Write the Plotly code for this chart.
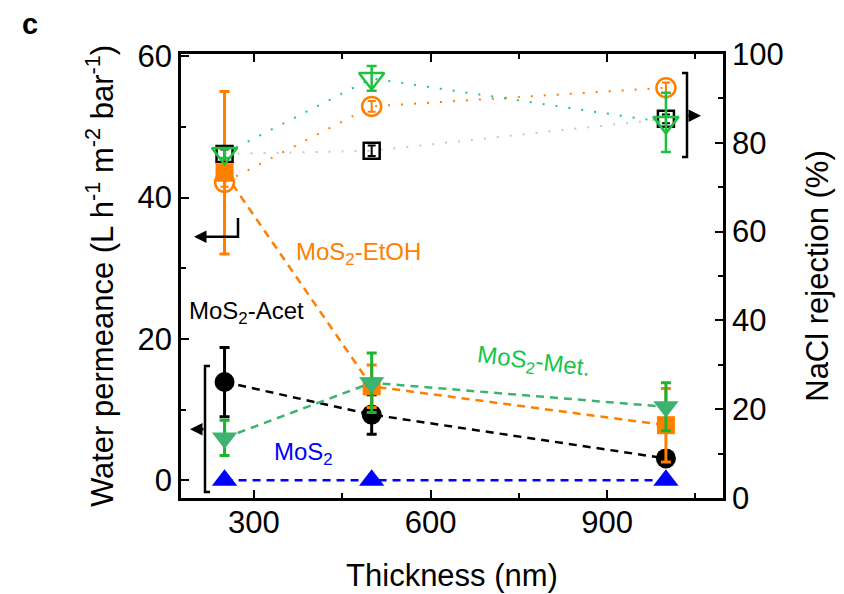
import plotly.graph_objects as go

# ---------------- data ----------------
thickness = [250, 500, 1000]

perm_mos2 = [0.0, 0.0, 0.0]

perm_acet = [13.9, 9.3, 3.1]
perm_acet_err = [4.9, 2.8, 1.0]

perm_etoh = [43.5, 13.3, 7.8]
perm_etoh_err = [11.5, 3.0, 5.2]

perm_met = [6.0, 13.8, 10.4]
perm_met_err = [2.5, 4.2, 3.4]

rej_acet = [77.5, 78.2, 85.4]
rej_acet_err = [1.0, 1.2, 1.0]

rej_etoh = [71.1, 88.2, 92.4]
rej_etoh_err = [1.0, 1.2, 1.2]

rej_met = [77.6, 94.5, 84.6]
rej_met_err = [1.0, 2.8, 6.7]

x_ticks = [300, 600, 900]
y_left_ticks = [0, 20, 40, 60]
y_right_ticks = [0, 20, 40, 60, 80, 100]

# ---------------- styles ----------------
BLACK = "#000000"
ORANGE = "#ff7f00"
GREEN_FILL = "#3cb371"
GREEN_ERR = "#1db32d"
GREEN_OPEN = "#1ec13e"
TEAL = "#16c79a"
BLUE = "#0000ff"
GREY = "#c8c8c8"
FONT = "Liberation Sans, Arial, sans-serif"

# page body has an 8px offset; plot box target in page px: x 181..723, y 54..498
OFF = 8
L, R, T, B = 181, 723, 54, 498

fig = go.Figure()

# rejection (right axis), dotted lines with open markers
fig.add_trace(go.Scatter(
    x=thickness, y=rej_acet, yaxis="y2", mode="lines+markers",
    line=dict(color=GREY, width=2, dash="2px,11px"),
    marker=dict(symbol="square-open", size=16, color=BLACK, line=dict(width=2.5)),
    error_y=dict(type="data", array=rej_acet_err, color=BLACK, thickness=2, width=4),
))
fig.add_trace(go.Scatter(
    x=thickness, y=rej_etoh, yaxis="y2", mode="lines+markers",
    line=dict(color=ORANGE, width=2, dash="2px,11px"),
    marker=dict(symbol="circle-open", size=19, color=ORANGE, line=dict(width=2.5)),
    error_y=dict(type="data", array=rej_etoh_err, color=ORANGE, thickness=2, width=4),
))
fig.add_trace(go.Scatter(
    x=thickness, y=rej_met, yaxis="y2", mode="lines+markers",
    line=dict(color=TEAL, width=2, dash="2px,11px"),
    marker=dict(symbol="triangle-down-open", size=22, color=GREEN_OPEN, line=dict(width=2.5)),
    error_y=dict(type="data", array=rej_met_err, color=GREEN_OPEN, thickness=2.5, width=5),
))

# permeance (left axis), dashed lines with filled markers
fig.add_trace(go.Scatter(
    x=thickness, y=perm_acet, mode="lines+markers",
    line=dict(color=BLACK, width=2.5, dash="8px,6px"),
    marker=dict(symbol="circle", size=20, color=BLACK),
    error_y=dict(type="data", array=perm_acet_err, color=BLACK, thickness=3, width=5),
))
fig.add_trace(go.Scatter(
    x=thickness, y=perm_etoh, mode="lines+markers",
    line=dict(color=ORANGE, width=2.5, dash="8px,6px"),
    marker=dict(symbol="square", size=18, color=ORANGE),
    error_y=dict(type="data", array=perm_etoh_err, color=ORANGE, thickness=3, width=5),
))
fig.add_trace(go.Scatter(
    x=thickness, y=perm_met, mode="lines+markers",
    line=dict(color=GREEN_FILL, width=2.5, dash="8px,6px"),
    marker=dict(symbol="triangle-down", size=22, color=GREEN_FILL),
    error_y=dict(type="data", array=perm_met_err, color=GREEN_ERR, thickness=3, width=5),
))
fig.add_trace(go.Scatter(
    x=thickness, y=perm_mos2, mode="lines+markers",
    line=dict(color=BLUE, width=2.5, dash="8px,6px"),
    marker=dict(symbol="triangle-up", size=22, color=BLUE),
))

axis_common = dict(
    showline=True, linecolor=BLACK, linewidth=2.5,
    ticks="inside", ticklen=8, tickwidth=2, tickcolor=BLACK,
    showgrid=False, zeroline=False,
    tickfont=dict(family=FONT, size=31, color=BLACK),
)

fig.update_layout(
    width=844, height=594,
    margin=dict(l=L - OFF, r=844 - (R - OFF), t=T - OFF, b=594 - (B - OFF)),
    paper_bgcolor="white", plot_bgcolor="white",
    showlegend=False,
    font=dict(family=FONT, color=BLACK),
    xaxis=dict(
        **axis_common, range=[176, 1097], tickvals=x_ticks, mirror="ticks",
        ticklabelstandoff=-5,
        minor=dict(ticks="inside", dtick=150, tick0=0, ticklen=5, tickwidth=2, tickcolor=BLACK),
        title=dict(text="Thickness (nm)", font=dict(family=FONT, size=31), standoff=26),
    ),
    yaxis=dict(
        **axis_common, range=[-2.5, 60.3], tickvals=y_left_ticks,
        minor=dict(ticks="inside", dtick=10, tick0=0, ticklen=5, tickwidth=2, tickcolor=BLACK),
        title=dict(text="Water permeance (L h<sup>-1</sup> m<sup>-2</sup> bar<sup>-1</sup>)",
                   font=dict(family=FONT, size=31), standoff=15),
    ),
    yaxis2=dict(
        **axis_common, range=[0, 100], tickvals=y_right_ticks,
        overlaying="y", side="right",
        minor=dict(ticks="inside", dtick=10, tick0=0, ticklen=5, tickwidth=2, tickcolor=BLACK),
        title=dict(text="NaCl rejection (%)", font=dict(family=FONT, size=31), standoff=24),
    ),
)

# ---------- brackets (paper coords, from page px) ----------
def px(x):
    return (x - L) / (R - L)

def py(y):
    return (B - y) / (B - T)

line_style = dict(color=BLACK, width=2.5)
shapes = [
    # left bracket (Acet / Met permeance)
    dict(type="path", xref="paper", yref="paper",
         path=f"M {px(210)},{py(366)} L {px(205)},{py(366)} L {px(205)},{py(492)} L {px(210)},{py(492)}",
         line=line_style),
    # EtOH bracket
    dict(type="path", xref="paper", yref="paper",
         path=f"M {px(238)},{py(218)} L {px(238)},{py(236.7)} L {px(200)},{py(236.7)}",
         line=line_style),
    # right bracket
    dict(type="path", xref="paper", yref="paper",
         path=f"M {px(682)},{py(73)} L {px(687)},{py(73)} L {px(687)},{py(157)} L {px(682)},{py(157)}",
         line=line_style),
]
fig.update_layout(shapes=shapes)

def label(x, y, text, color, size=24, angle=0):
    return dict(x=px(x), y=py(y), xref="paper", yref="paper", text=text,
                showarrow=False, textangle=angle, xanchor="center", yanchor="middle",
                font=dict(family=FONT, size=size, color=color))

annotations = [
    # arrows
    dict(x=px(190), y=py(429.3), xref="paper", yref="paper", ax=15, ay=0, text="",
         showarrow=True, arrowhead=2, arrowsize=1, arrowwidth=2.5, arrowcolor=BLACK),
    dict(x=px(194), y=py(236.7), xref="paper", yref="paper", ax=12, ay=0, text="",
         showarrow=True, arrowhead=2, arrowsize=1, arrowwidth=2.5, arrowcolor=BLACK),
    dict(x=px(701), y=py(115.7), xref="paper", yref="paper", ax=-14, ay=0, text="",
         showarrow=True, arrowhead=2, arrowsize=1, arrowwidth=2.5, arrowcolor=BLACK),
    # labels
    label(358, 253, "MoS<sub>2</sub>-EtOH", ORANGE),
    label(246, 313, "MoS<sub>2</sub>-Acet", BLACK),
    label(533, 362, "MoS<sub>2</sub>-Met.", "#19c34a", angle=7),
    label(303, 453, "MoS<sub>2</sub>", BLUE),
    label(30, 24, "<b>c</b>", BLACK, size=29),
]
fig.update_layout(annotations=annotations)

fig.write_html("out.html")
